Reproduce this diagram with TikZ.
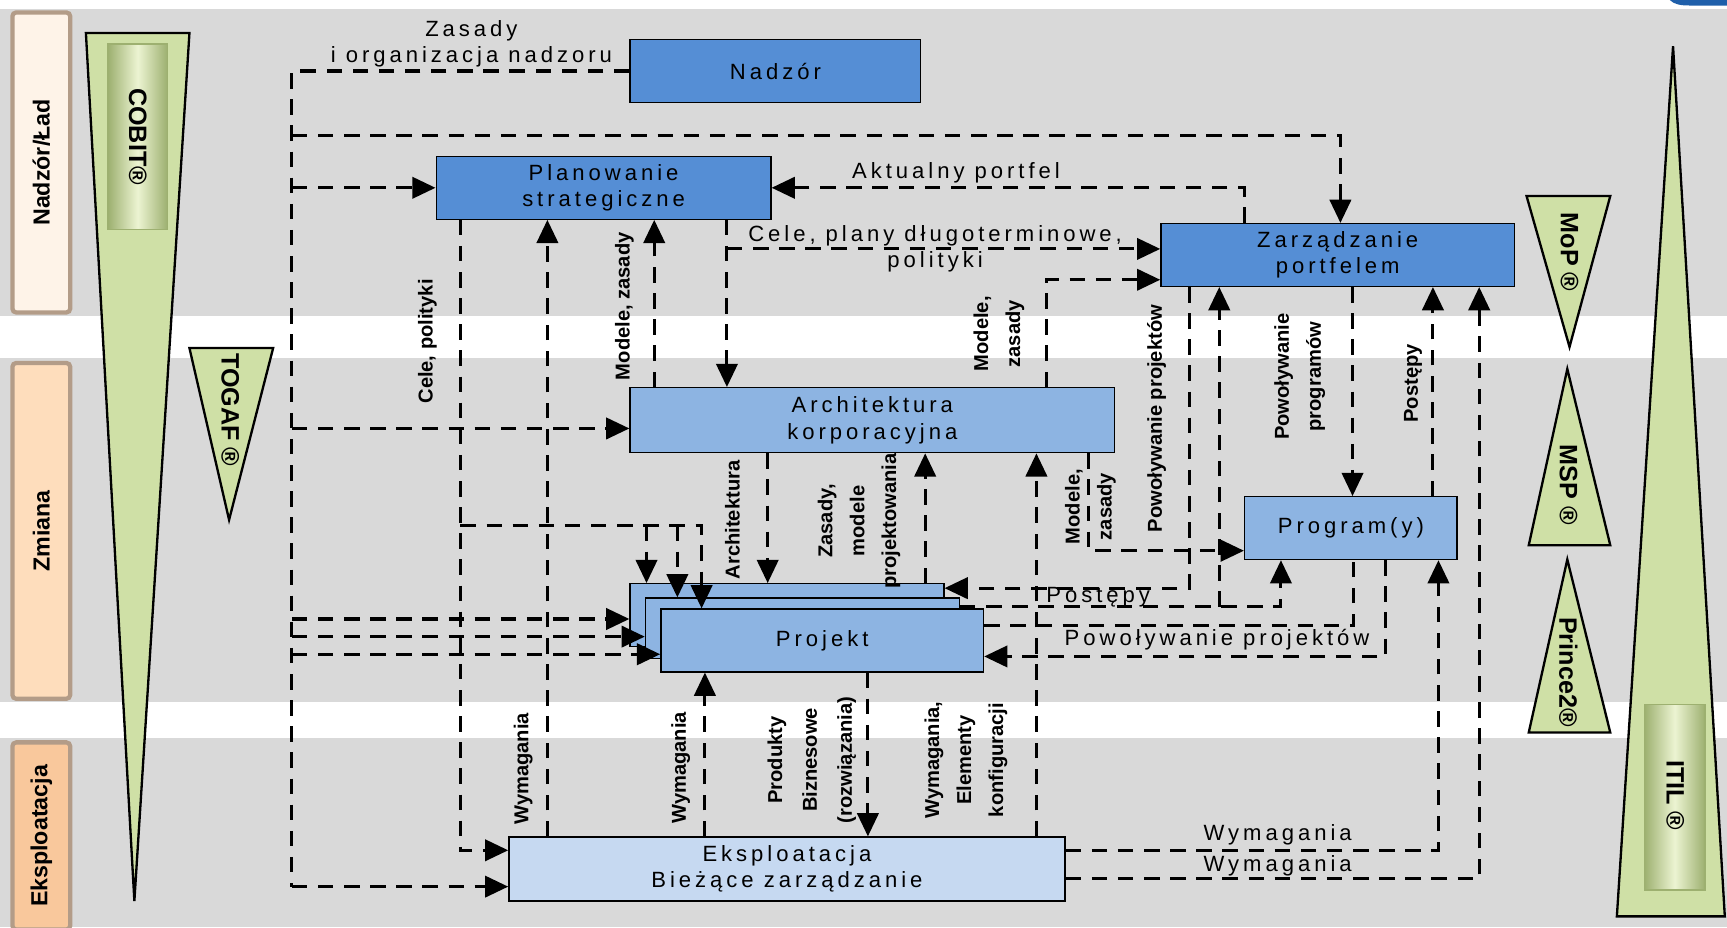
\documentclass[tikz,border=0pt]{standalone}
\usepackage{fontspec}
\setmainfont{Liberation Sans}
\newfontfamily\spacedfont[LetterSpace=18]{Liberation Sans}
\usetikzlibrary{positioning,calc,arrows.meta}

\definecolor{bggray}{HTML}{D9D9D9}
\definecolor{darkbox}{HTML}{558ED5}
\definecolor{midbox}{HTML}{8DB4E2}
\definecolor{lightbox}{HTML}{C6D9F1}
\definecolor{trigreen}{HTML}{CFE0A6}
\definecolor{triedge}{HTML}{9DB070}
\definecolor{trilight}{HTML}{ECF4D2}
\definecolor{govfill}{HTML}{FEF3E8}
\definecolor{chgfill}{HTML}{FEDDBC}
\definecolor{opsfill}{HTML}{F9C89C}
\definecolor{sideedge}{HTML}{B39C88}
\definecolor{logoblue}{HTML}{1F5FAA}

\tikzset{
	box/.style={draw=black, line width=0.7pt, align=center, inner sep=0pt, font=\spacedfont\fontsize{11.4}{13.7}\selectfont},
	flow/.style={line width=1.6pt, dash pattern=on 8pt off 5.5pt},
	arr/.style={flow, -{Triangle[length=12pt, width=11pt]}},
	lbl/.style={align=center, inner sep=0pt, font=\spacedfont\fontsize{11.4}{13.2}\selectfont},
	vlbl/.style={align=center, inner sep=0pt, rotate=90, font=\bfseries\fontsize{10.4}{16.5}\selectfont},
	sidelbl/.style={rounded corners=2pt, draw=sideedge, line width=2.2pt, rotate=90, inner sep=0pt, minimum height=1.05cm, font=\bfseries\fontsize{12}{14}\selectfont},
	tri/.style={draw=black, line width=1.2pt, fill=trigreen, line join=miter},
	bevel/.style={draw=triedge, line width=0.6pt, left color=triedge, right color=triedge, middle color=trilight},
	trilbl/.style={rotate=-90, inner sep=0pt, font=\bfseries\fontsize{13}{15}\selectfont},
}

\begin{document}
\begin{tikzpicture}[x=0.02cm, y=-0.02cm]
	\useasboundingbox (0,0) rectangle (1568,842);

	\fill[bggray] (0,8) rectangle (1568,842);
	\fill[white] (0,287) rectangle (1568,325);
	\fill[white] (0,637) rectangle (1568,670);
	\fill[logoblue] (1516,0) .. controls (1520,4) and (1526,5) .. (1534,5) -- (1568,5) -- (1568,0) -- cycle;

	\node[sidelbl, fill=govfill, minimum width=5.45cm] (gov) at (37.5,147.5) {Nadzór/Ład};
	\node[sidelbl, fill=chgfill, minimum width=6.1cm] (chg) at (37.5,482) {Zmiana};
	\node[sidelbl, fill=opsfill, minimum width=3.4cm] (ops) at (37.5,759) {Eksploatacja};

	\draw[tri] (78,30) -- (172,30) -- (122,818) -- cycle;
	\draw[bevel] (98,40) rectangle (152,208);
	\node[trilbl] (cobit) at (125,124) {COBIT®};
	\draw[tri] (172,316) -- (248,316) -- (208,472) -- cycle;
	\node[trilbl] (togaf) at (209,372) {TOGAF ®};

	\draw[tri] (1386,178) -- (1462,178) -- (1425,315) -- cycle;
	\node[trilbl] (mop) at (1425,229) {MoP ®};
	\draw[tri] (1423,335) -- (1462,495) -- (1388,495) -- cycle;
	\node[trilbl] (msp) at (1424,440) {MSP ®};
	\draw[tri] (1423,508) -- (1462,665) -- (1388,665) -- cycle;
	\node[trilbl] (prince) at (1424,610) {Prince2®};
	\draw[tri] (1519,42) -- (1566,832) -- (1468,832) -- cycle;
	\draw[bevel] (1493,640) rectangle (1548,808);
	\node[trilbl] (itil) at (1521,722) {ITIL ®};

	\node[box, fill=darkbox, minimum width=5.28cm, minimum height=1.14cm] (nadzor) at (704,64.5) {Nadzór};
	\node[box, fill=darkbox, minimum width=6.08cm, minimum height=1.14cm] (plan) at (548,170.5) {Planowanie\\strategiczne};
	\node[box, fill=darkbox, minimum width=6.42cm, minimum height=1.14cm] (zarz) at (1214.5,231.5) {Zarządzanie\\portfelem};
	\node[box, fill=midbox, minimum width=8.8cm, minimum height=1.18cm] (arch) at (792,381.5) {Architektura\\korporacyjna};
	\node[box, fill=midbox, minimum width=3.86cm, minimum height=1.14cm] (prog) at (1226.5,479.5) {Program(y)};
	\node[box, fill=midbox, minimum width=5.7cm, minimum height=1.14cm] (proj3) at (714.5,558.5) {};
	\node[box, fill=midbox, minimum width=5.7cm, minimum height=1.1cm] (proj2) at (728.5,570.5) {};
	\node[box, fill=midbox, minimum width=5.86cm, minimum height=1.14cm] (proj) at (746.5,581.5) {Projekt};
	\node[box, fill=lightbox, minimum width=10.1cm, minimum height=1.16cm] (eksp) at (714.5,789) {Eksploatacja\\Bieżące zarządzanie};

	\draw[flow] (nadzor.west) -| (265,805);
	\draw[arr] (265,805) -- (eksp.west |- 0,805);
	\draw[arr] (265,123) -| (1217,0 |- zarz.north);
	\draw[arr] (265,170.5) -- (plan.west);
	\draw[arr] (265,389) -- (arch.west |- 0,389);
	\draw[arr] (265,562) -- (proj3.west |- 0,562);
	\draw[arr] (265,578) -- (proj2.west |- 0,578);
	\draw[arr] (265,594) -- (proj.west |- 0,594);

	\draw[arr] (418,0 |- plan.south) -- (418,772) -- (eksp.west |- 0,772);
	\draw[arr] (418,477) -| (637,0 |- proj.north);
	\draw[arr] (587,477) -- (587,0 |- proj3.north);
	\draw[arr] (615,477) -- (615,0 |- proj2.north);
	\draw[arr] (497,0 |- eksp.north) -- (497,0 |- plan.south);
	\draw[arr] (594,0 |- arch.north) -- (594,0 |- plan.south);
	\draw[arr] (660,0 |- plan.south) -- (660,0 |- arch.north);
	\draw[arr] (660,226) -- (zarz.west |- 0,226);
	\draw[arr] (1130,0 |- zarz.north) |- (plan.east);
	\draw[arr] (950,0 |- arch.north) |- (zarz.west |- 0,254);

	\draw[arr] (697,0 |- arch.south) -- (697,0 |- proj3.north);
	\draw[arr] (840,0 |- proj3.north) -- (840,0 |- arch.south);
	\draw[arr] (941,0 |- eksp.north) -- (941,0 |- arch.south);
	\draw[arr] (988,0 |- arch.south) |- (prog.west |- 0,500);
	\draw[arr] (1080,0 |- zarz.south) |- (proj3.east |- 0,534);
	\draw[arr] (proj2.east |- 0,551) -| (1163,0 |- prog.south);
	\draw[arr] (1107,551) -- (1107,0 |- zarz.south);
	\draw[flow] (proj.east |- 0,568) -| (1229,0 |- prog.south);
	\draw[arr] (1258,0 |- prog.south) |- (proj.east |- 0,596);
	\draw[arr] (1228,0 |- zarz.south) -- (1228,0 |- prog.north);
	\draw[arr] (1301,0 |- prog.north) -- (1301,0 |- zarz.south);
	\draw[arr] (eksp.east |- 0,798) -| (1343,0 |- zarz.south);
	\draw[arr] (eksp.east |- 0,772) -| (1306,0 |- prog.south);
	\draw[arr] (640,0 |- eksp.north) -- (640,0 |- proj.south);
	\draw[arr] (788,0 |- proj.south) -- (788,0 |- eksp.north);

	\node[lbl] (zasady) at (428,40) {Zasady\\i organizacja nadzoru};
	\node[lbl] (aktport) at (868,157) {Aktualny portfel};
	\node[lbl] (celeplany) at (849,226) {Cele, plany długoterminowe,\\polityki};
	\node[lbl] (postepy) at (997,542) {Postępy};
	\node[lbl] (powproj) at (1105,581) {Powoływanie projektów};
	\node[lbl] (wym1) at (1160,758) {Wymagania};
	\node[lbl] (wym2) at (1160,786) {Wymagania};

	\node[vlbl] (celepol) at (388,310) {Cele, polityki};
	\node[vlbl] (modzas1) at (567,278) {Modele, zasady};
	\node[vlbl] (wym3) at (475,698) {Wymagania};
	\node[vlbl] (modzas2) at (907,303) {Modele,\\zasady};
	\node[vlbl] (archlbl) at (665,472) {Architektura};
	\node[vlbl] (zasmod) at (780,473) {Zasady,\\modele\\projektowania};
	\node[vlbl] (wymel) at (877,690) {Wymagania,\\Elementy\\konfiguracji};
	\node[vlbl] (modzas3) at (990,460) {Modele,\\zasady};
	\node[vlbl] (powproj2) at (1050,380) {Powoływanie projektów};
	\node[vlbl] (powprog) at (1180,342) {Powoływanie\\programów};
	\node[vlbl] (postepy2) at (1283,348) {Postępy};
	\node[vlbl] (wym4) at (618,697) {Wymagania};
	\node[vlbl, font=\bfseries\fontsize{10.4}{18}\selectfont] (produkty) at (737,690) {Produkty\\Biznesowe\\(rozwiązania)};
\end{tikzpicture}
\end{document}
